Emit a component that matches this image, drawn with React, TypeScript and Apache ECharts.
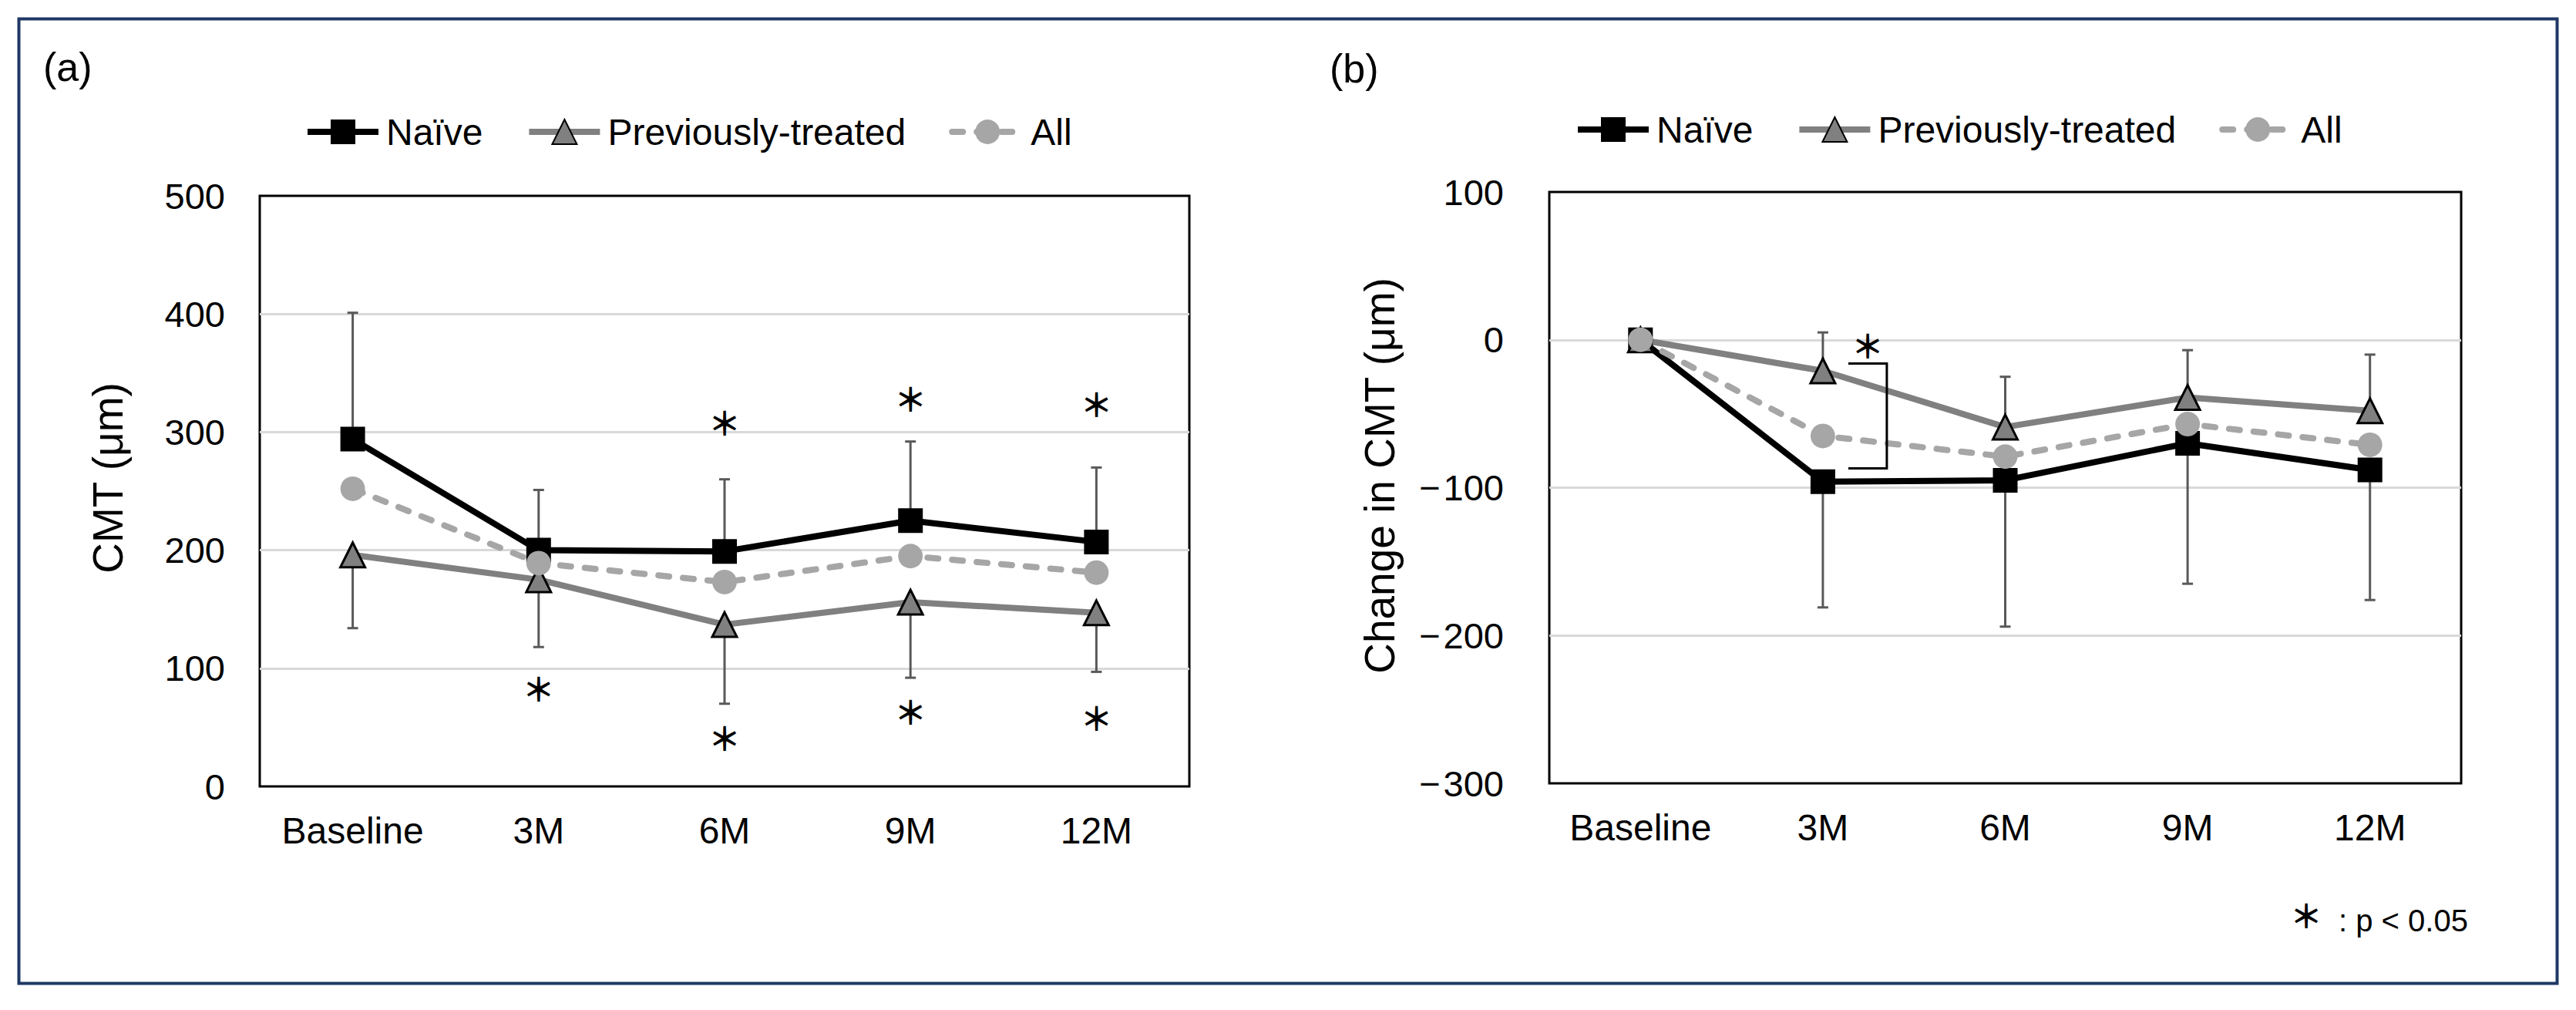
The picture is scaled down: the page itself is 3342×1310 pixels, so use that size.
import React, { useEffect, useRef } from 'react';
import * as echarts from 'echarts';

// ---------- data ----------
const categories = ['Baseline', '3M', '6M', '9M', '12M'];
const seriesNames = ['Naïve', 'Previously-treated', 'All'];

// panel (a) CMT (μm)
const cmtNaive = [294, 200, 199, 225, 207];
const cmtPrev = [196, 175, 137, 156, 147];
const cmtAll = [252, 189, 173, 195, 181];
const cmtNaiveSD = [107, 51, 61, 67, 63];
const cmtPrevSD = [62, 57, 67, 64, 50];
const cmtSigAbove = [null, null, 309, 329, 325];
const cmtSigBelow = [null, 84, 42, 64, 59];
const cmtTicks = [0, 100, 200, 300, 400, 500];

// panel (b) Change in CMT (μm)
const chgNaive = [0, -96, -95, -70, -88];
const chgPrev = [0, -21, -59, -39, -48];
const chgAll = [0, -65, -79, -57, -71];
const chgNaiveSD = [0, 85, 99, 95, 88];
const chgPrevSD = [0, 26, 34, 32, 38];
const chgTicks = [-300, -200, -100, 0, 100];
const chgBracket = [1, -16, -87]; // category index, top value, bottom value
const chgBracketStar = [1, -3];

// ---------- styles ----------
const FONT = '"Liberation Sans", Arial, sans-serif';
const STAR_FONT = '"Noto Sans CJK JP", "DejaVu Sans", sans-serif';
const C_NAIVE = '#000000';
const C_PREV = '#808080';
const C_ALL = '#A6A6A6';
const C_ERR = '#595959';
const STAR_SIZE = 42;

function errData(vals: number[], sds: number[], dir: number) {
  const out: number[][] = [];
  vals.forEach((v, i) => {
    if (sds[i]) out.push([i, v, v + dir * sds[i]]);
  });
  return out;
}

function sigData(vals: (number | null)[]) {
  const out: number[][] = [];
  vals.forEach((v, i) => {
    if (v !== null) out.push([i, v]);
  });
  return out;
}

const errRender = (params: any, api: any) => {
  const x = api.value(0);
  const a = api.coord([x, api.value(1)]);
  const b = api.coord([x, api.value(2)]);
  return {
    type: 'group',
    children: [
      { type: 'line', shape: { x1: a[0], y1: a[1], x2: b[0], y2: b[1] }, style: { stroke: C_ERR, lineWidth: 3 } },
      { type: 'line', shape: { x1: b[0] - 7, y1: b[1], x2: b[0] + 7, y2: b[1] }, style: { stroke: C_ERR, lineWidth: 3 } },
    ],
  };
};

const starRender = (dx: number) => (params: any, api: any) => {
  const p = api.coord([api.value(0), api.value(1)]);
  return {
    type: 'text',
    x: p[0] + dx,
    y: p[1],
    style: { text: '＊', fontSize: STAR_SIZE, fontWeight: 'bold', fontFamily: STAR_FONT, fill: '#000', align: 'center', verticalAlign: 'middle' },
  };
};

const bracketRender = (params: any, api: any) => {
  const x = api.value(0);
  const a = api.coord([x, api.value(1)]);
  const b = api.coord([x, api.value(2)]);
  return {
    type: 'polyline',
    shape: { points: [[a[0] + 33, a[1]], [a[0] + 83, a[1]], [a[0] + 83, b[1]], [a[0] + 33, b[1]]] },
    style: { stroke: '#000', lineWidth: 3, fill: 'none' },
  };
};

function lineSeries(name: string, data: number[], idx: number) {
  const base: any = {
    name,
    type: 'line',
    data,
    xAxisIndex: idx,
    yAxisIndex: idx,
    symbolSize: 32,
    z: 3,
  };
  if (name === 'Naïve') {
    base.symbol = 'rect';
    base.lineStyle = { color: C_NAIVE, width: 8 };
    base.itemStyle = { color: C_NAIVE };
  } else if (name === 'Previously-treated') {
    base.symbol = 'triangle';
    base.lineStyle = { color: C_PREV, width: 8 };
    base.itemStyle = { color: C_PREV, borderColor: '#000', borderWidth: 3 };
  } else {
    base.symbol = 'circle';
    base.lineStyle = { color: C_ALL, width: 8, type: [14, 18], cap: 'round' };
    base.itemStyle = { color: C_ALL };
  }
  return base;
}

function yAxisOf(ticks: number[], margin: number, signed: boolean) {
  return {
    type: 'value',
    min: ticks[0],
    max: ticks[ticks.length - 1],
    interval: ticks[1] - ticks[0],
    axisLine: { show: false },
    axisTick: { show: false },
    axisLabel: {
      fontSize: 47,
      fontFamily: FONT,
      color: '#000',
      margin,
      formatter: (v: number) => (signed && v < 0 ? '\u2212\u200A' + Math.abs(v) : String(v)),
    },
    splitLine: { show: true, showMinLine: false, showMaxLine: false, lineStyle: { color: '#D9D9D9', width: 3 } },
  };
}

function xAxisOf(idx: number, margin: number) {
  return {
    type: 'category',
    gridIndex: idx,
    data: categories,
    boundaryGap: true,
    axisLine: { show: false },
    axisTick: { show: false },
    axisLabel: { fontSize: 48, fontFamily: FONT, color: '#000', margin, interval: 0, hideOverlap: false },
    splitLine: { show: false },
  };
}

function legendOf(left: number, top: number) {
  return {
    data: seriesNames,
    left,
    top,
    orient: 'horizontal',
    itemWidth: 92,
    itemHeight: 40,
    itemGap: 56,
    lineStyle: { width: 8 },
    textStyle: { fontSize: 48, fontFamily: FONT, color: '#000', padding: [0, 0, 0, 5] },
  };
}

export default function App() {
  const ref = useRef<HTMLDivElement>(null);
  useEffect(() => {
    if (!ref.current) return;
    const chart = echarts.init(ref.current, undefined, { renderer: 'svg' });
    const option: any = {
      animation: false,
      backgroundColor: '#ffffff',
      textStyle: { fontFamily: FONT },
      legend: [legendOf(390, 142), legendOf(2038, 139)],
      grid: [
        { left: 337, top: 254, width: 1206, height: 766, show: true, borderColor: '#000', borderWidth: 3, backgroundColor: 'transparent' },
        { left: 2010, top: 249, width: 1183, height: 767, show: true, borderColor: '#000', borderWidth: 3, backgroundColor: 'transparent' },
      ],
      xAxis: [xAxisOf(0, 33), xAxisOf(1, 33)],
      yAxis: [
        { ...yAxisOf(cmtTicks, 45, false), gridIndex: 0 },
        { ...yAxisOf(chgTicks, 59, true), gridIndex: 1 },
      ],
      series: [
        // error bars (a)
        { name: 'errA1', type: 'custom', xAxisIndex: 0, yAxisIndex: 0, data: errData(cmtNaive, cmtNaiveSD, 1), renderItem: errRender, encode: { x: 0, y: [1, 2] }, z: 2, silent: true },
        { name: 'errA2', type: 'custom', xAxisIndex: 0, yAxisIndex: 0, data: errData(cmtPrev, cmtPrevSD, -1), renderItem: errRender, encode: { x: 0, y: [1, 2] }, z: 2, silent: true },
        // error bars (b)
        { name: 'errB1', type: 'custom', xAxisIndex: 1, yAxisIndex: 1, data: errData(chgPrev, chgPrevSD, 1), renderItem: errRender, encode: { x: 0, y: [1, 2] }, z: 2, silent: true },
        { name: 'errB2', type: 'custom', xAxisIndex: 1, yAxisIndex: 1, data: errData(chgNaive, chgNaiveSD, -1), renderItem: errRender, encode: { x: 0, y: [1, 2] }, z: 2, silent: true },
        // lines (a)
        lineSeries('Naïve', cmtNaive, 0),
        lineSeries('Previously-treated', cmtPrev, 0),
        lineSeries('All', cmtAll, 0),
        // lines (b)
        lineSeries('Naïve', chgNaive, 1),
        lineSeries('Previously-treated', chgPrev, 1),
        lineSeries('All', chgAll, 1),
        // significance marks
        { name: 'sigA1', type: 'custom', xAxisIndex: 0, yAxisIndex: 0, data: sigData(cmtSigAbove), renderItem: starRender(0), encode: { x: 0, y: 1 }, z: 4, silent: true, clip: false },
        { name: 'sigA2', type: 'custom', xAxisIndex: 0, yAxisIndex: 0, data: sigData(cmtSigBelow), renderItem: starRender(0), encode: { x: 0, y: 1 }, z: 4, silent: true, clip: false },
        { name: 'bracketB', type: 'custom', xAxisIndex: 1, yAxisIndex: 1, data: [chgBracket], renderItem: bracketRender, encode: { x: 0, y: [1, 2] }, z: 4, silent: true, clip: false },
        { name: 'sigB', type: 'custom', xAxisIndex: 1, yAxisIndex: 1, data: [chgBracketStar], renderItem: starRender(58), encode: { x: 0, y: 1 }, z: 4, silent: true, clip: false },
      ],
      graphic: [
        { type: 'rect', left: 22, top: 22, shape: { x: 0, y: 0, width: 3293, height: 1251 }, style: { fill: 'none', stroke: '#1F3864', lineWidth: 4 }, silent: true },
        { type: 'text', x: 56, y: 87, style: { text: '(a)', fontSize: 52, fontFamily: FONT, fill: '#000', align: 'left', verticalAlign: 'middle' } },
        { type: 'text', x: 1725, y: 89, style: { text: '(b)', fontSize: 52, fontFamily: FONT, fill: '#000', align: 'left', verticalAlign: 'middle' } },
        { type: 'text', x: 140, y: 620, rotation: Math.PI / 2, style: { text: 'CMT (μm)', fontSize: 55, fontFamily: FONT, fill: '#000', align: 'center', verticalAlign: 'middle' } },
        { type: 'text', x: 1790, y: 617, rotation: Math.PI / 2, style: { text: 'Change in CMT (μm)', fontSize: 55, fontFamily: FONT, fill: '#000', align: 'center', verticalAlign: 'middle' } },
        { type: 'text', x: 2992, y: 1185, style: { text: '＊', fontSize: STAR_SIZE, fontWeight: 'bold', fontFamily: STAR_FONT, fill: '#000', align: 'center', verticalAlign: 'middle' } },
        { type: 'text', x: 3034, y: 1194, style: { text: ': p < 0.05', fontSize: 40, fontFamily: FONT, fill: '#000', align: 'left', verticalAlign: 'middle' } },
      ],
    };
    chart.setOption(option);
    return () => chart.dispose();
  }, []);
  return (
    <div
      ref={ref}
      style={{ position: 'absolute', left: 0, top: 0, width: 3342, height: 1310, background: '#fff' }}
    />
  );
}
